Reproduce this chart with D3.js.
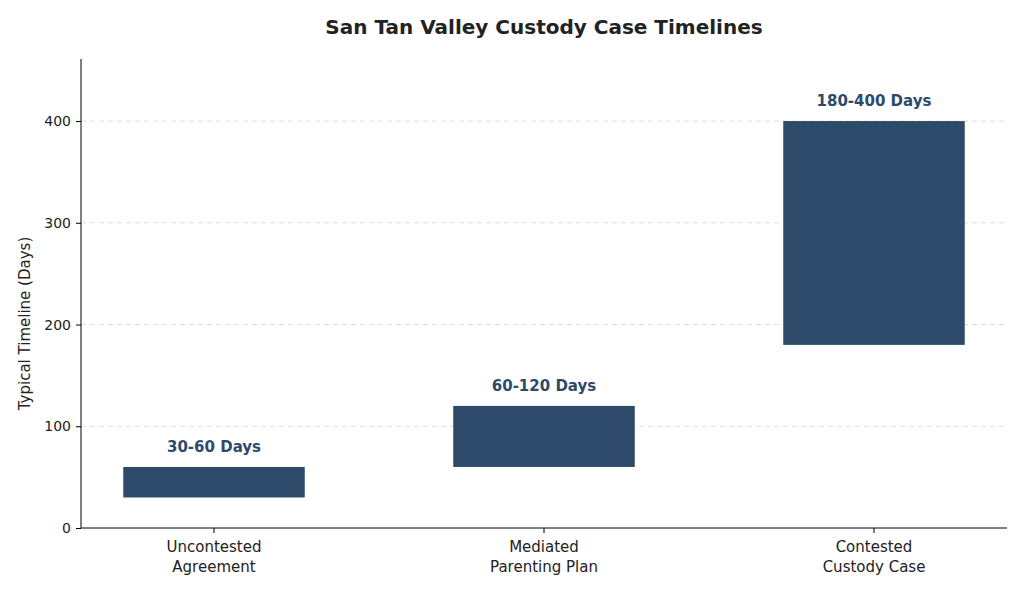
<!DOCTYPE html>
<html><head><meta charset="utf-8">
<script src="https://cdn.jsdelivr.net/npm/d3@7"></script>
<style>body{margin:0;background:#fff;font-family:"DejaVu Sans",sans-serif;}</style>
</head><body>
<svg id="chart" width="1024" height="592"></svg>
<script>
// Custody timelines: floating bars from min to max days
const cases = [
    { name: ['Uncontested', 'Agreement'], min: 30, max: 60 },
    { name: ['Mediated', 'Parenting Plan'], min: 60, max: 120 },
    { name: ['Contested', 'Custody Case'], min: 180, max: 400 }
];

const svg = d3.select('#chart');
const mLeft = 81, mRight = 1007, mTop = 59, mBottom = 528;
const barColor = '#2d4a6b';

const x = d3.scaleLinear().domain([-0.403, 2.403]).range([mLeft, mRight]);
const y = d3.scaleLinear().domain([0, 461]).range([mBottom, mTop]);
const barW = x(0.55) - x(0);

// Grid
svg.append('g').selectAll('line').data([100, 200, 300, 400]).join('line')
    .attr('x1', mLeft).attr('x2', mRight)
    .attr('y1', d => y(d)).attr('y2', d => y(d))
    .attr('stroke', '#dddddd').attr('stroke-dasharray', '5,4').attr('stroke-width', 1);

// Bars
svg.append('g').selectAll('rect').data(cases).join('rect')
    .attr('x', (d, i) => x(i) - barW / 2)
    .attr('width', barW)
    .attr('y', d => y(d.max))
    .attr('height', d => y(d.min) - y(d.max))
    .attr('fill', barColor);

// Value labels
svg.append('g').selectAll('text').data(cases).join('text')
    .attr('x', (d, i) => x(i))
    .attr('y', d => y(d.max) - 15)
    .attr('text-anchor', 'middle')
    .attr('font-size', 15).attr('font-weight', 'bold').attr('fill', barColor)
    .text(d => `${d.min}-${d.max} Days`);

// Y axis
const yAxis = svg.append('g').attr('transform', `translate(${mLeft},0)`)
    .call(d3.axisLeft(y).tickValues([0, 100, 200, 300, 400]).tickSize(5).tickPadding(5));
yAxis.select('.domain').attr('d', `M0,${mTop}V${mBottom}`).attr('stroke', '#000');
yAxis.selectAll('text').attr('font-size', 14).attr('fill', '#222').attr('font-family', '"DejaVu Sans"');

// X axis
svg.append('line').attr('x1', mLeft).attr('x2', mRight).attr('y1', mBottom).attr('y2', mBottom).attr('stroke', '#000');
const xt = svg.append('g').selectAll('g').data(cases).join('g')
    .attr('transform', (d, i) => `translate(${x(i)},${mBottom})`);
xt.append('line').attr('y2', 5).attr('stroke', '#000');
xt.append('text').attr('text-anchor', 'middle').attr('font-size', 15).attr('fill', '#222')
    .selectAll('tspan').data(d => d.name).join('tspan')
    .attr('x', 0).attr('y', (d, i) => 24 + i * 20).text(d => d);

// Titles
svg.append('text').attr('x', 544).attr('y', 34).attr('text-anchor', 'middle')
    .attr('font-size', 20).attr('font-weight', 'bold').attr('fill', '#222')
    .text('San Tan Valley Custody Case Timelines');
svg.append('text').attr('transform', `translate(30,${(mTop + mBottom) / 2 + 30}) rotate(-90)`)
    .attr('text-anchor', 'middle').attr('font-size', 15).attr('fill', '#222')
    .text('Typical Timeline (Days)');
</script>
</body></html>
